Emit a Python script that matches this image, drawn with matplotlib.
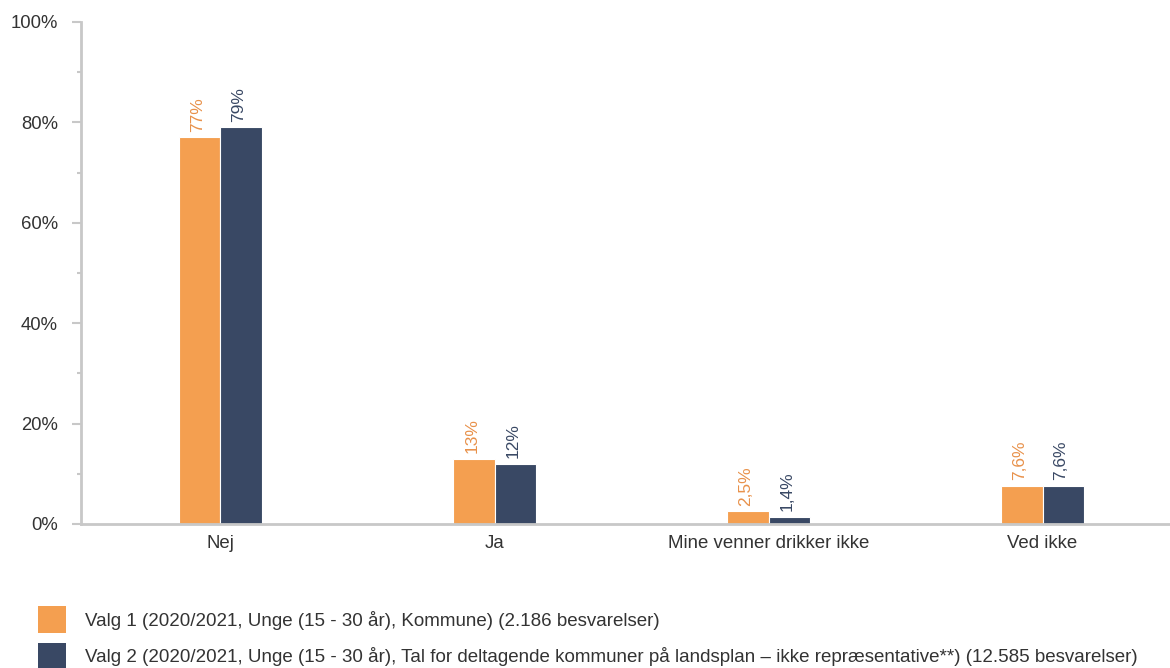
import matplotlib
matplotlib.use("Agg")
import matplotlib.pyplot as plt
from matplotlib.patches import Patch
import numpy as np

plt.rcParams['font.family'] = ['Liberation Sans', 'DejaVu Sans']

categories = ['Nej', 'Ja', 'Mine venner drikker ikke', 'Ved ikke']
valg1 = [77, 13, 2.5, 7.6]
valg2 = [79, 12, 1.4, 7.6]
labels1 = ['77%', '13%', '2,5%', '7,6%']
labels2 = ['79%', '12%', '1,4%', '7,6%']
legend_labels = [
    'Valg 1 (2020/2021, Unge (15 - 30 år), Kommune) (2.186 besvarelser)',
    'Valg 2 (2020/2021, Unge (15 - 30 år), Tal for deltagende kommuner på landsplan – ikke repræsentative**) (12.585 besvarelser)',
]

orange = '#F49F50'
navy = '#394864'
grey = '#c8c8c8'
txt = '#333333'

fig = plt.figure(figsize=(11.7, 6.68), dpi=100)
ax = fig.add_axes([81 / 1170, 1 - 524 / 668, 1 - 81 / 1170, (524 - 22) / 668])

x = np.arange(len(categories))
w = 0.15
b1 = ax.bar(x - w / 2, valg1, w, color=orange, edgecolor='white', linewidth=0.8)
b2 = ax.bar(x + w / 2, valg2, w, color=navy, edgecolor='white', linewidth=0.8)

for rect, lab in zip(b1, labels1):
    ax.annotate(lab, (rect.get_x() + rect.get_width() / 2, rect.get_height()),
                xytext=(-1.5, 4), textcoords='offset points', rotation=90,
                ha='center', va='bottom', color='#E8914A', fontsize=12.5)
for rect, lab in zip(b2, labels2):
    ax.annotate(lab, (rect.get_x() + rect.get_width() / 2, rect.get_height()),
                xytext=(-1.5, 4), textcoords='offset points', rotation=90,
                ha='center', va='bottom', color=navy, fontsize=12.5)

ax.set_xlim(-0.509, 3.465)
ax.set_ylim(0, 100)
ax.set_yticks(np.arange(0, 101, 20))
ax.set_yticklabels([f'{v}%' for v in range(0, 101, 20)])
ax.set_yticks(np.arange(10, 100, 20), minor=True)
ax.set_xticks(x)
ax.set_xticklabels(categories)

for s in ['top', 'right']:
    ax.spines[s].set_visible(False)
for s in ['left', 'bottom']:
    ax.spines[s].set_color(grey)
    ax.spines[s].set_linewidth(2)

ax.tick_params(axis='y', which='major', length=6.5, width=1.5, color=grey,
               pad=10, labelsize=13.3, labelcolor=txt)
ax.tick_params(axis='y', which='minor', length=3, width=1.5, color=grey)
ax.tick_params(axis='x', length=0, pad=8, labelsize=13.4, labelcolor=txt)

handles = [Patch(facecolor=orange), Patch(facecolor=navy)]
fig.legend(handles, legend_labels, loc='upper left',
           bbox_to_anchor=(38 / 1170, 1 - 606 / 668), frameon=False,
           fontsize=13.5, handlelength=1.5, handleheight=1.85, handletextpad=1.0,
           labelspacing=0.52, labelcolor=txt, borderpad=0, borderaxespad=0)

fig.savefig('out.png', dpi=100)
